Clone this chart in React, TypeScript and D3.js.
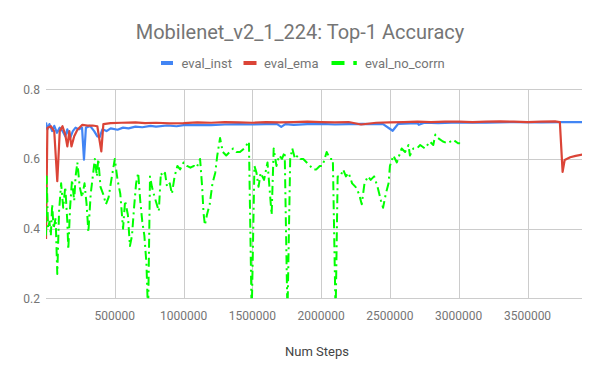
import React from "react";
import * as d3 from "d3";

const W = 600;
const H = 371;

const titleText = "Mobilenet_v2_1_224: Top-1 Accuracy";
const xAxisLabel = "Num Steps";
const seriesNames = ["eval_inst", "eval_ema", "eval_no_corrn"];
const seriesColors = ["#4285F4", "#DB4437", "#00FF00"];
const xTicks = [500000, 1000000, 1500000, 2000000, 2500000, 3000000, 3500000];
const yTicks = [0.2, 0.4, 0.6, 0.8];

// eval_inst (steps in thousands)
const instSteps = [0, 10, 25, 45, 60, 80, 100, 120, 140, 155, 175, 195, 215, 240, 262, 276, 290, 320, 350, 373, 390, 410, 440, 470, 520, 560, 600, 650, 700, 760, 800, 880, 950, 1000, 1100, 1200, 1300, 1400, 1500, 1600, 1680, 1710, 1740, 1800, 1900, 2000, 2100, 2200, 2300, 2400, 2450, 2520, 2560, 2650, 2700, 2710, 2750, 2850, 3000, 3200, 3400, 3600, 3750, 3900];
const instValues = [0.705, 0.685, 0.70, 0.68, 0.695, 0.675, 0.69, 0.68, 0.665, 0.685, 0.66, 0.68, 0.69, 0.685, 0.69, 0.598, 0.69, 0.695, 0.68, 0.665, 0.663, 0.685, 0.68, 0.688, 0.684, 0.69, 0.688, 0.693, 0.691, 0.695, 0.693, 0.696, 0.694, 0.697, 0.698, 0.697, 0.699, 0.70, 0.699, 0.70, 0.70, 0.692, 0.70, 0.698, 0.70, 0.701, 0.699, 0.70, 0.701, 0.70, 0.70, 0.681, 0.701, 0.702, 0.703, 0.698, 0.704, 0.703, 0.705, 0.704, 0.706, 0.705, 0.706, 0.706];

// eval_ema
const emaSteps = [0, 10, 35, 60, 82, 100, 120, 140, 155, 170, 185, 205, 228, 264, 300, 340, 373, 402, 417, 470, 550, 650, 720, 800, 900, 1000, 1100, 1200, 1300, 1400, 1500, 1600, 1700, 1800, 1900, 2000, 2100, 2200, 2290, 2400, 2500, 2600, 2700, 2800, 2900, 3000, 3100, 3200, 3300, 3400, 3500, 3600, 3700, 3735, 3755, 3770, 3810, 3850, 3900];
const emaValues = [0.37, 0.689, 0.694, 0.679, 0.536, 0.68, 0.694, 0.67, 0.636, 0.68, 0.636, 0.665, 0.684, 0.698, 0.696, 0.696, 0.694, 0.622, 0.70, 0.703, 0.704, 0.705, 0.703, 0.704, 0.702, 0.703, 0.705, 0.704, 0.706, 0.705, 0.704, 0.706, 0.705, 0.706, 0.707, 0.706, 0.705, 0.706, 0.699, 0.704, 0.705, 0.706, 0.707, 0.706, 0.707, 0.707, 0.706, 0.707, 0.708, 0.707, 0.706, 0.707, 0.708, 0.706, 0.563, 0.597, 0.605, 0.609, 0.613];

// eval_no_corrn
const noCorrnSteps = [0, 5, 15, 25, 35, 45, 55, 70, 82, 95, 110, 125, 140, 155, 162, 175, 189, 205, 215, 228, 245, 262, 280, 295, 308, 325, 340, 355, 370, 380, 396, 415, 436, 455, 475, 500, 520, 540, 560, 575, 595, 610, 625, 640, 655, 670, 685, 700, 715, 730, 742, 756, 770, 790, 805, 820, 835, 850, 865, 880, 900, 915, 935, 955, 975, 1000, 1025, 1050, 1075, 1095, 1120, 1135, 1145, 1155, 1170, 1190, 1210, 1230, 1245, 1265, 1285, 1310, 1335, 1360, 1385, 1410, 1440, 1475, 1495, 1515, 1530, 1545, 1560, 1585, 1610, 1640, 1655, 1675, 1695, 1715, 1735, 1755, 1775, 1790, 1810, 1830, 1850, 1870, 1895, 1920, 1940, 1965, 1990, 2010, 2040, 2065, 2085, 2105, 2120, 2140, 2160, 2180, 2200, 2225, 2250, 2275, 2295, 2315, 2340, 2360, 2385, 2410, 2435, 2450, 2470, 2490, 2500, 2525, 2550, 2585, 2610, 2635, 2645, 2670, 2695, 2720, 2755, 2790, 2815, 2830, 2850, 2885, 2920, 2960, 2995, 3010];
const noCorrnValues = [0.38, 0.55, 0.40, 0.42, 0.38, 0.47, 0.40, 0.43, 0.27, 0.45, 0.53, 0.46, 0.52, 0.42, 0.34, 0.46, 0.54, 0.48, 0.55, 0.59, 0.52, 0.49, 0.53, 0.47, 0.39, 0.50, 0.55, 0.60, 0.55, 0.60, 0.52, 0.50, 0.47, 0.49, 0.54, 0.60, 0.54, 0.50, 0.40, 0.48, 0.44, 0.35, 0.38, 0.46, 0.53, 0.56, 0.48, 0.42, 0.38, 0.30, 0.15, 0.55, 0.52, 0.49, 0.47, 0.45, 0.56, 0.55, 0.56, 0.52, 0.53, 0.50, 0.55, 0.58, 0.57, 0.59, 0.58, 0.575, 0.58, 0.575, 0.60, 0.52, 0.445, 0.41, 0.44, 0.47, 0.53, 0.56, 0.61, 0.66, 0.62, 0.61, 0.62, 0.63, 0.62, 0.62, 0.63, 0.65, 0.15, 0.58, 0.56, 0.52, 0.56, 0.54, 0.59, 0.44, 0.63, 0.58, 0.61, 0.60, 0.62, 0.15, 0.60, 0.63, 0.60, 0.61, 0.60, 0.60, 0.59, 0.58, 0.57, 0.57, 0.58, 0.58, 0.62, 0.60, 0.60, 0.15, 0.55, 0.55, 0.57, 0.55, 0.56, 0.53, 0.52, 0.50, 0.47, 0.53, 0.55, 0.54, 0.55, 0.52, 0.48, 0.46, 0.50, 0.53, 0.58, 0.61, 0.59, 0.63, 0.62, 0.64, 0.61, 0.63, 0.63, 0.64, 0.63, 0.65, 0.64, 0.67, 0.66, 0.65, 0.645, 0.655, 0.645, 0.645];

const FONT = "Roboto, 'Noto Sans', sans-serif";

export default function App() {
  const left = 46;
  const right = 582;
  const top = 89.3;
  const bottom = 298.3;

  const x = d3.scaleLinear().domain([0, 3896000]).range([left, right]);
  const y = d3.scaleLinear().domain([0.2, 0.8]).range([bottom, top]);

  const line = d3
    .line<[number, number]>()
    .x((d) => x(d[0] * 1000))
    .y((d) => y(d[1]));

  const zip = (s: number[], v: number[]) => s.map((k, i) => [k, v[i]] as [number, number]);
  const instPath = line(zip(instSteps, instValues)) || "";
  const emaPath = line(zip(emaSteps, emaValues)) || "";
  const noCorrnPath = line(zip(noCorrnSteps, noCorrnValues)) || "";

  const legendY = 63;
  return (
    <div style={{ position: "absolute", left: 0, top: 0 }}>
      <svg width={W} height={H} style={{ display: "block", background: "#fff" }}>
        <defs>
          <clipPath id="plotClip">
            <rect x={left} y={top - 10} width={right - left} height={bottom - top + 10} />
          </clipPath>
        </defs>
        <text x={300} y={38.5} textAnchor="middle" fontFamily={FONT} fontSize={20} fill="#757575">
          {titleText}
        </text>
        {/* legend */}
        <g fontFamily={FONT} fontSize={13} fill="#757575">
          <rect x={161} y={legendY - 2} width={12} height={4} fill={seriesColors[0]} />
          <text x={181.5} y={legendY + 4.5}>{seriesNames[0]}</text>
          <rect x={243.5} y={legendY - 2} width={13} height={4} fill={seriesColors[1]} />
          <text x={264} y={legendY + 4.5}>{seriesNames[1]}</text>
          <rect x={331.5} y={legendY - 2} width={13} height={4} fill={seriesColors[2]} />
          <rect x={353.3} y={legendY - 2} width={3.5} height={4} fill={seriesColors[2]} />
          <text x={365} y={legendY + 4.5}>{seriesNames[2]}</text>
        </g>
        {/* grid */}
        <g stroke="#cccccc" strokeWidth={1}>
          {yTicks.map((t) => (
            <line key={"gy" + t} x1={left} x2={right} y1={Math.round(y(t)) + 0.5} y2={Math.round(y(t)) + 0.5} />
          ))}
          {xTicks.map((t) => (
            <line key={"gx" + t} x1={Math.round(x(t)) + 0.5} x2={Math.round(x(t)) + 0.5} y1={top} y2={bottom} />
          ))}
        </g>
        <g fontFamily={FONT} fontSize={12} fill="#757575">
          {yTicks.map((t) => (
            <text key={"ly" + t} x={40} y={y(t) + 4.3} textAnchor="end">
              {d3.format(".1f")(t)}
            </text>
          ))}
          {xTicks.map((t) => (
            <text key={"lx" + t} x={x(t)} y={320} textAnchor="middle">
              {String(t)}
            </text>
          ))}
        </g>
        <text x={317} y={356} textAnchor="middle" fontFamily={FONT} fontSize={13} fill="#444">
          {xAxisLabel}
        </text>
        <g clipPath="url(#plotClip)" fill="none" strokeLinejoin="round">
          <path d={instPath} stroke={seriesColors[0]} strokeWidth={2.2} />
          <path d={emaPath} stroke={seriesColors[1]} strokeWidth={2.2} />
          <path d={noCorrnPath} stroke={seriesColors[2]} strokeWidth={2} strokeDasharray="9,4,2,4" />
        </g>
      </svg>
    </div>
  );
}
